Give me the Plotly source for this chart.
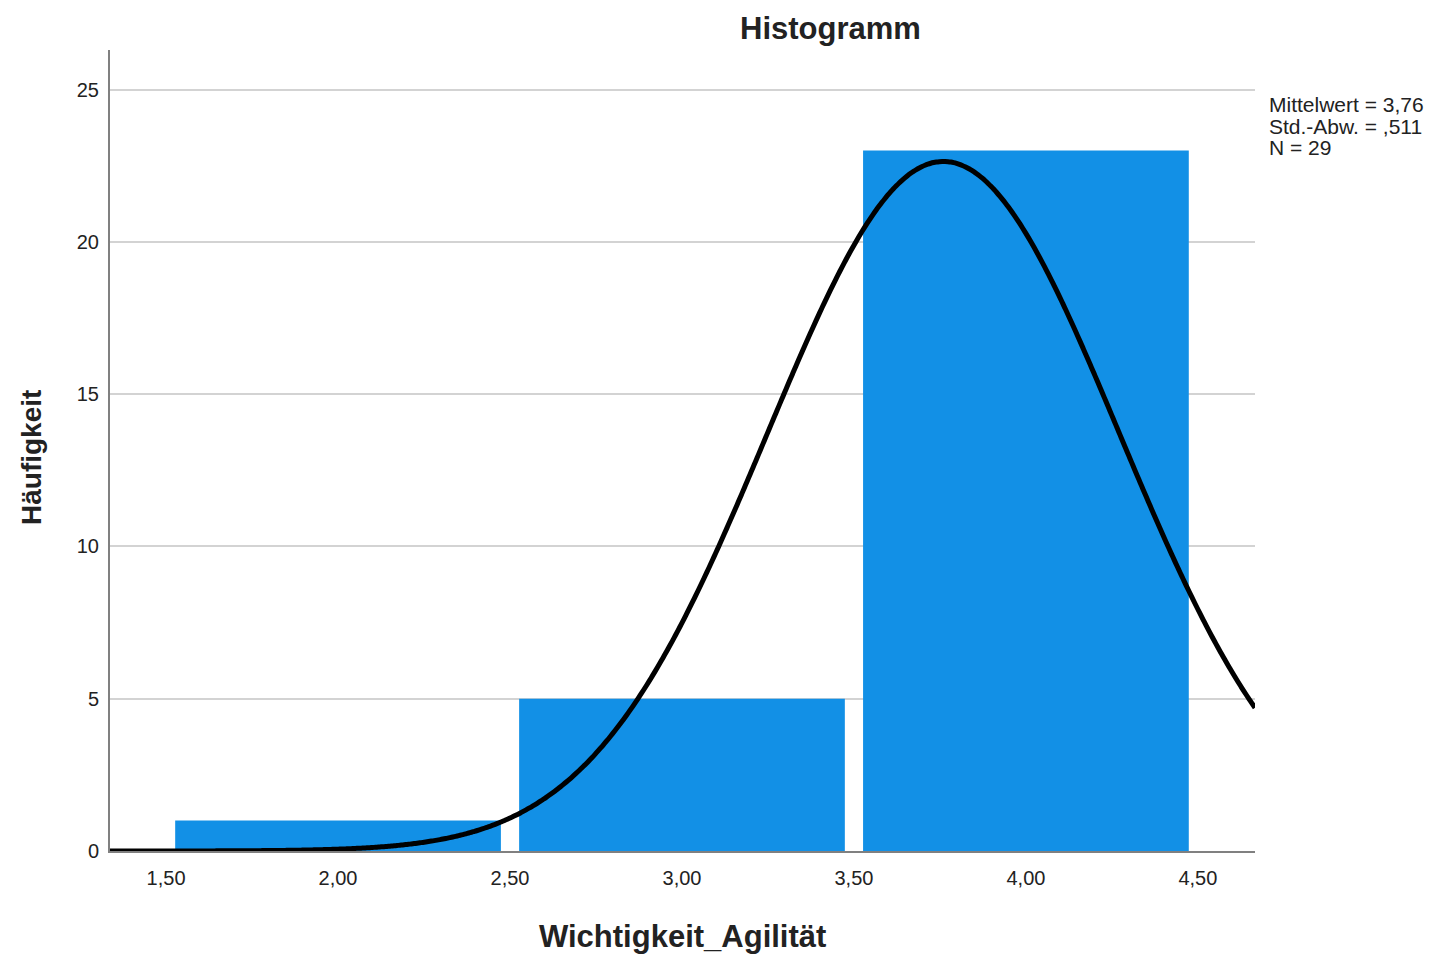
import numpy as np
import plotly.graph_objects as go

# Histogram data (bin centers, bin width, counts)
bin_centers = [2.0, 3.0, 4.0]
counts = [1, 5, 23]
bin_width = 1.0

# Summary statistics shown on the chart
mean_val = 3.76
sd_val = 0.511
n_val = 29
stats_lines = ["Mittelwert = 3,76", "Std.-Abw. = ,511", "N = 29"]

x_tickvals = [1.5, 2.0, 2.5, 3.0, 3.5, 4.0, 4.5]
x_ticktext = ["1,50", "2,00", "2,50", "3,00", "3,50", "4,00", "4,50"]
y_tickvals = [0, 5, 10, 15, 20, 25]

x_range = [1.337, 4.666]
y_range = [0, 26.3]

# Normal curve from the stated mean / SD / N
xs = np.linspace(x_range[0], x_range[1], 400)
ys = n_val * bin_width / (sd_val * np.sqrt(2 * np.pi)) * np.exp(-0.5 * ((xs - mean_val) / sd_val) ** 2)

font_family = "Liberation Sans, Arial, sans-serif"
txt = "#222222"

# page layout (the page body adds an 8px offset)
OFF = 8
L, T, R, B = 102, 42, 192, 112
W, H = 1439, 955
plot_w = W - L - R
plot_h = H - T - B


def px_x(px):
    return (px - OFF - L) / plot_w


def px_y(py):
    return (H - B + OFF - py) / plot_h


fig = go.Figure()
fig.add_trace(go.Bar(
    x=bin_centers, y=counts, width=0.947,
    marker=dict(color="#1290E6", line=dict(width=0)),
    showlegend=False, hoverinfo="x+y",
))
fig.add_trace(go.Scatter(
    x=xs, y=ys, mode="lines",
    line=dict(color="black", width=5, shape="spline", simplify=False),
    showlegend=False,
))

annotations = [
    dict(text="<b>Histogramm</b>", x=px_x(830), y=px_y(OFF + 1), xref="paper", yref="paper",
         xanchor="center", yanchor="top", showarrow=False, font=dict(size=31, color=txt)),
    dict(text="<b>Wichtigkeit_Agilität</b>", x=px_x(682), y=px_y(936), xref="paper", yref="paper",
         xanchor="center", yanchor="middle", showarrow=False, font=dict(size=31, color=txt)),
    dict(text="<b>Häufigkeit</b>", x=px_x(31), y=px_y(458), xref="paper", yref="paper",
         xanchor="center", yanchor="middle", textangle=-90, showarrow=False,
         font=dict(size=28, color=txt)),
]
for i, line in enumerate(stats_lines):
    annotations.append(dict(
        text=line, x=px_x(1267), y=px_y(104 + 22 * i), xref="paper", yref="paper",
        xanchor="left", yanchor="middle", showarrow=False, font=dict(size=21, color=txt)))

fig.update_layout(
    width=W, height=H,
    margin=dict(l=L, r=R, t=T, b=B),
    paper_bgcolor="white", plot_bgcolor="white",
    font=dict(family=font_family, color=txt, size=16),
    xaxis=dict(
        range=x_range, tickvals=x_tickvals, ticktext=x_ticktext,
        showgrid=False, zeroline=False, showline=True,
        linecolor="#808080", linewidth=2, ticks="",
        tickfont=dict(size=20, color=txt), ticklabelstandoff=8,
    ),
    yaxis=dict(
        range=y_range, tickvals=y_tickvals,
        showgrid=True, gridcolor="#D3D3D3", gridwidth=2,
        zeroline=False, showline=True, linecolor="#808080", linewidth=2, ticks="",
        tickfont=dict(size=20, color=txt), ticklabelstandoff=5,
    ),
    annotations=annotations,
)

fig.write_html("out.html")
